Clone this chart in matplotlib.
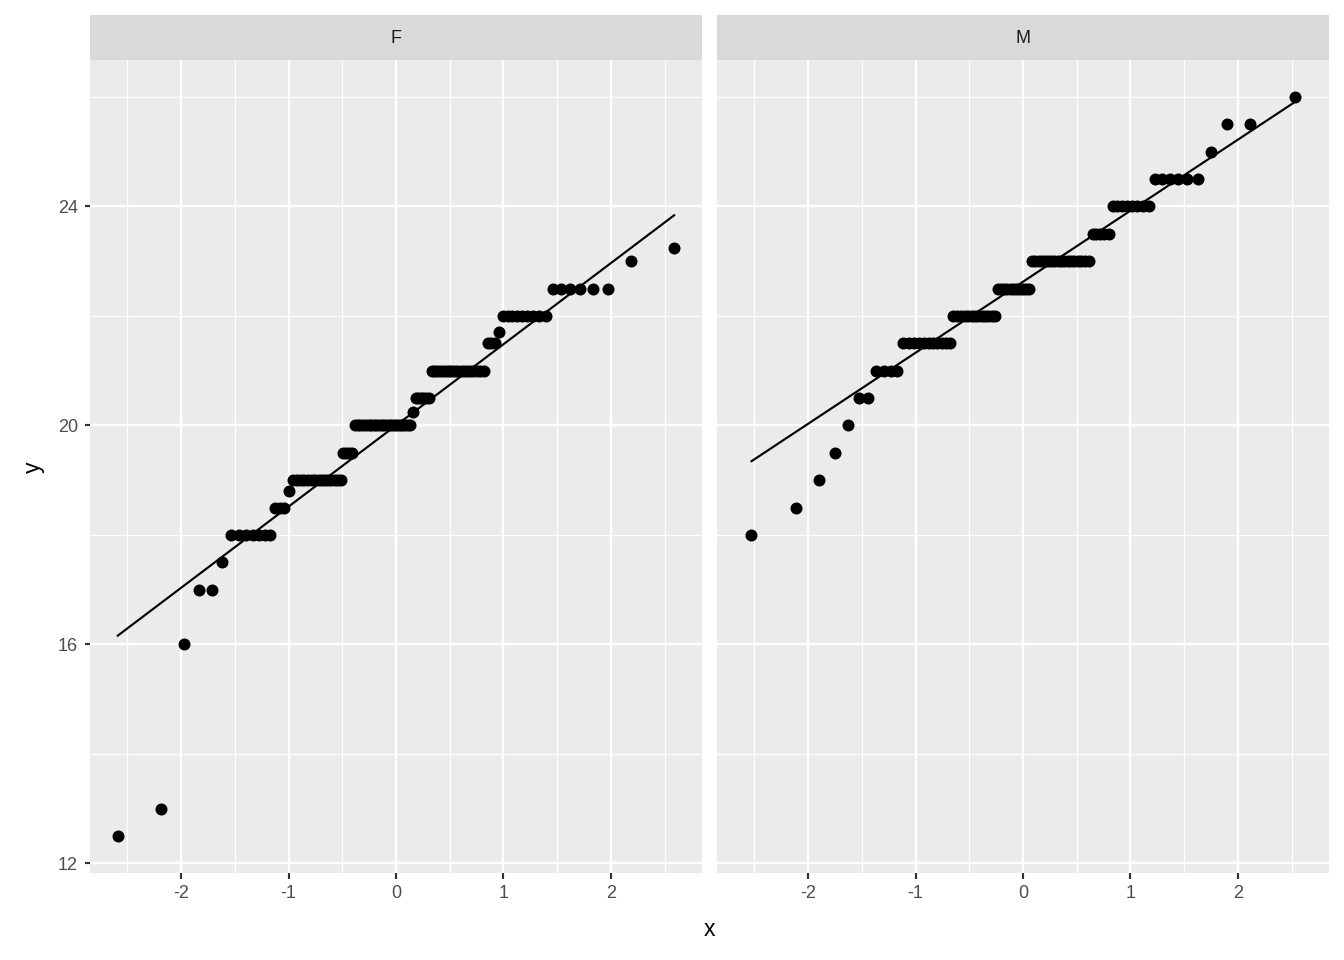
import numpy as np
import matplotlib
matplotlib.use("Agg")
import matplotlib.pyplot as plt
from statistics import NormalDist

# sample values and how many times each occurs, per facet
f_values = [12.5, 13, 16, 17, 17.5, 18, 18.5, 18.8, 19, 19.5, 20, 20.25, 20.5,
            21, 21.5, 21.7, 22, 22.5, 23, 23.25]
f_counts = [1, 1, 1, 2, 1, 7, 3, 1, 15, 4, 22, 1, 6, 18, 3, 1, 9, 6, 1, 1]

m_values = [18, 18.5, 19, 19.5, 20, 20.5, 21, 21.5, 22, 22.5, 23, 23.5, 24,
            24.5, 25, 25.5, 26]
m_counts = [1, 1, 1, 1, 1, 2, 4, 11, 13, 11, 18, 5, 8, 6, 1, 2, 1]

panels = ["F", "M"]
x_ticks = [-2, -1, 0, 1, 2]
y_ticks = [12, 16, 20, 24]

plt.rcParams['font.family'] = ['Liberation Sans', 'DejaVu Sans']
plt.rcParams['axes.unicode_minus'] = False


def qq(values, counts):
    # like ggplot stat_qq: sorted sample vs normal quantiles of ppoints(n)
    y = np.repeat(values, counts).astype(float)
    n = len(y)
    nd = NormalDist()
    x = np.array([nd.inv_cdf((i - 0.5) / n) for i in range(1, n + 1)])
    # stat_qq_line: through the 1st and 3rd quartiles
    q1, q3 = np.quantile(y, [0.25, 0.75])
    z1, z3 = nd.inv_cdf(0.25), nd.inv_cdf(0.75)
    slope = (q3 - q1) / (z3 - z1)
    icept = q1 - slope * z1
    return x, y, slope, icept


data = {"F": qq(f_values, f_counts), "M": qq(m_values, m_counts)}

allx = np.concatenate([data[p][0] for p in panels])
ally = np.concatenate([data[p][1] for p in panels])
xr = allx.max() - allx.min()
yr = ally.max() - ally.min()
xlim = (allx.min() - 0.05 * xr, allx.max() + 0.05 * xr)
ylim = (ally.min() - 0.05 * yr, ally.max() + 0.05 * yr)

W, H = 1344, 960
fig = plt.figure(figsize=(W / 144, H / 144), dpi=144)
lefts = [90, 717]
pw = 612
top, bottom = 60, 873
strip_top = 15

for p, lx in zip(panels, lefts):
    ax = fig.add_axes([lx / W, 1 - bottom / H, pw / W, (bottom - top) / H])
    ax.set_facecolor("#EBEBEB")
    for s in ax.spines.values():
        s.set_visible(False)
    ax.set_xlim(xlim)
    ax.set_ylim(ylim)
    ax.set_xticks(x_ticks)
    ax.set_xticks(np.arange(-2.5, 3, 1), minor=True)
    ax.set_yticks(y_ticks)
    ax.set_yticks([14, 18, 22, 26], minor=True)
    ax.grid(which="major", color="white", lw=1.2)
    ax.grid(which="minor", color="white", lw=0.6)
    ax.set_axisbelow(True)
    ax.tick_params(which="minor", length=0)
    ax.tick_params(which="major", length=2.75, width=1.07, color="#333333",
                   labelsize=9, labelcolor="#4D4D4D", pad=3.3)
    if p != "F":
        ax.tick_params(axis="y", which="major", left=False, labelleft=False)

    x, y, slope, icept = data[p]
    xs = np.array([x.min(), x.max()])
    ax.plot(xs, icept + slope * xs, color="black", lw=1.07, zorder=3)
    ax.scatter(x, y, s=36, color="black", linewidths=0, zorder=4)

    sax = fig.add_axes([lx / W, 1 - top / H, pw / W, (top - strip_top) / H])
    sax.set_facecolor("#D9D9D9")
    sax.set_xticks([])
    sax.set_yticks([])
    for s in sax.spines.values():
        s.set_visible(False)
    sax.text(0.5, 0.47, p, ha="center", va="center", fontsize=9,
             color="#1A1A1A", transform=sax.transAxes)

fig.text((90 + 1329) / 2 / W, 1 - 930 / H, "x", ha="center", va="center", fontsize=11.5)
fig.text(33 / W, 1 - 467 / H, "y", ha="center", va="center", fontsize=11.5, rotation=90)

fig.savefig("out.png", dpi=144, facecolor="white")
